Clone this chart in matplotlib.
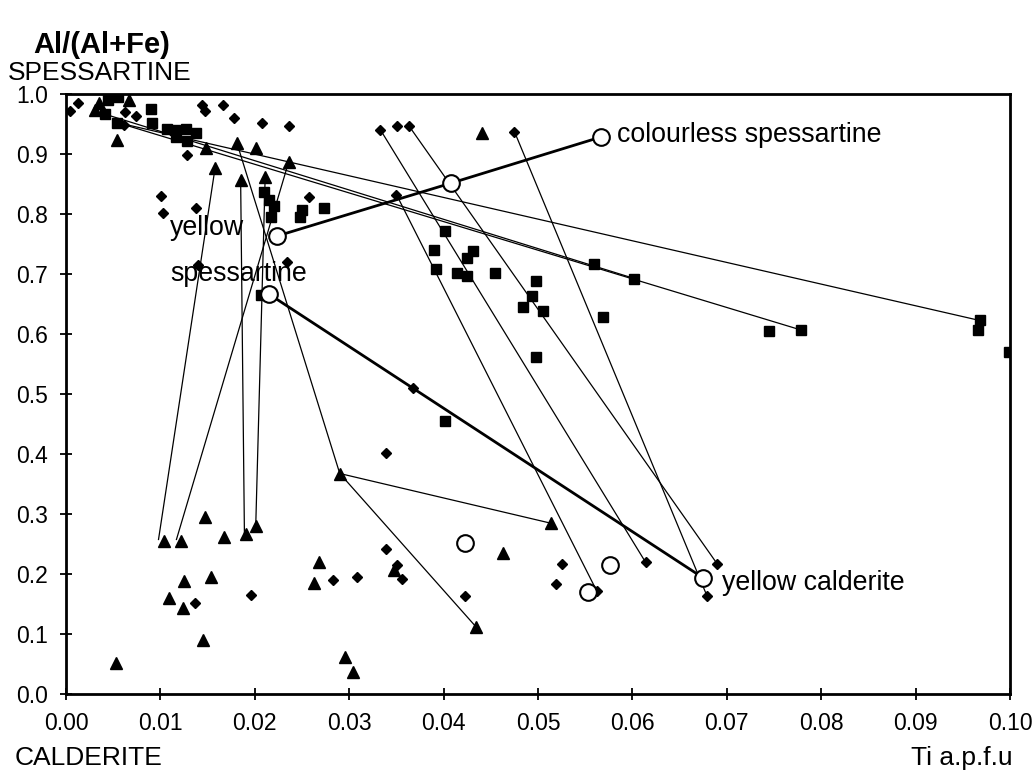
import numpy as np
import matplotlib
matplotlib.use("Agg")
from matplotlib import pyplot as plt

plt.rcParams['font.family'] = ['Liberation Sans', 'DejaVu Sans']

# diamonds
dia_x = [0.0004, 0.0013, 0.0063, 0.0074, 0.0061, 0.0128, 0.0144, 0.0147, 0.0166, 0.0178,
         0.0208, 0.0236, 0.0257, 0.0101, 0.0103, 0.0138, 0.0140, 0.0234, 0.0333, 0.0351,
         0.0363, 0.0475, 0.0350, 0.0368, 0.0339, 0.0339, 0.0351, 0.0356, 0.0283, 0.0308,
         0.0137, 0.0196, 0.0423, 0.0525, 0.0519, 0.0562, 0.0614, 0.0690, 0.0679]
dia_y = [0.973, 0.985, 0.970, 0.964, 0.949, 0.899, 0.983, 0.973, 0.983, 0.960,
         0.953, 0.948, 0.829, 0.831, 0.802, 0.811, 0.716, 0.721, 0.941, 0.948,
         0.948, 0.938, 0.833, 0.510, 0.402, 0.243, 0.216, 0.193, 0.191, 0.196,
         0.153, 0.166, 0.164, 0.217, 0.184, 0.173, 0.220, 0.217, 0.164]

# squares
sq_x = [0.0041, 0.0045, 0.0055, 0.0054, 0.0090, 0.0091, 0.0107, 0.0115, 0.0117, 0.0127,
        0.0128, 0.0138, 0.0210, 0.0215, 0.0220, 0.0217, 0.0250, 0.0248, 0.0273, 0.0207,
        0.0401, 0.0390, 0.0392, 0.0431, 0.0425, 0.0414, 0.0425, 0.0454, 0.0559, 0.0602,
        0.0498, 0.0494, 0.0484, 0.0505, 0.0498, 0.0569, 0.0745, 0.0779, 0.0968, 0.0966,
        0.0999, 0.0401]
sq_y = [0.967, 0.991, 0.995, 0.953, 0.975, 0.953, 0.942, 0.940, 0.928, 0.943,
        0.922, 0.935, 0.837, 0.824, 0.814, 0.796, 0.807, 0.796, 0.810, 0.666,
        0.772, 0.741, 0.709, 0.738, 0.727, 0.703, 0.698, 0.702, 0.718, 0.693,
        0.689, 0.664, 0.646, 0.639, 0.563, 0.629, 0.605, 0.607, 0.623, 0.607,
        0.571, 0.456]

# triangles
tri_x = [0.0035, 0.0031, 0.0067, 0.0054, 0.0148, 0.0181, 0.0201, 0.0236, 0.0158, 0.0185,
         0.0211, 0.0441, 0.0104, 0.0122, 0.0147, 0.0167, 0.0191, 0.0201, 0.0125, 0.0154,
         0.0109, 0.0124, 0.0145, 0.0053, 0.0268, 0.0263, 0.0290, 0.0296, 0.0304, 0.0347,
         0.0514, 0.0463, 0.0434]
tri_y = [0.985, 0.974, 0.990, 0.924, 0.910, 0.919, 0.910, 0.888, 0.878, 0.857,
         0.863, 0.936, 0.256, 0.256, 0.296, 0.263, 0.268, 0.281, 0.189, 0.195,
         0.160, 0.144, 0.090, 0.052, 0.221, 0.185, 0.368, 0.063, 0.037, 0.207,
         0.285, 0.236, 0.113]

# open circles
circ_x = [0.0224, 0.0408, 0.0567, 0.0215, 0.0675, 0.0423, 0.0553, 0.0576]
circ_y = [0.764, 0.852, 0.929, 0.667, 0.194, 0.253, 0.171, 0.216]

# thin tie lines: start and end
tie_x0 = [0.0054, 0.0041, 0.0054, 0.0333, 0.0363, 0.0475, 0.0350, 0.0158, 0.0236, 0.0185, 0.0211, 0.0181, 0.0290, 0.0290]
tie_y0 = [0.953, 0.967, 0.953, 0.941, 0.948, 0.938, 0.833, 0.878, 0.888, 0.857, 0.863, 0.919, 0.368, 0.368]
tie_x1 = [0.0968, 0.0602, 0.0779, 0.0614, 0.0690, 0.0679, 0.0562, 0.0098, 0.0117, 0.0189, 0.0201, 0.0290, 0.0514, 0.0434]
tie_y1 = [0.623, 0.693, 0.607, 0.220, 0.217, 0.164, 0.173, 0.258, 0.258, 0.268, 0.281, 0.368, 0.285, 0.113]

# thick trend lines
colourless_x = [0.0224, 0.0408, 0.0567]
colourless_y = [0.764, 0.852, 0.929]
yellow_x = [0.0215, 0.0675]
yellow_y = [0.667, 0.194]

fig = plt.figure(figsize=(10.35, 7.76), dpi=100)
ax = fig.add_axes([66 / 1035, 81.7 / 776, 944 / 1035, 600 / 776])

for i in range(len(tie_x0)):
    ax.plot([tie_x0[i], tie_x1[i]], [tie_y0[i], tie_y1[i]], color="black", lw=0.9, zorder=2)
ax.plot(colourless_x, colourless_y, color="black", lw=2, zorder=2)
ax.plot(yellow_x, yellow_y, color="black", lw=2, zorder=2)

ax.plot(dia_x, dia_y, "D", color="black", markersize=5.3, ls="none", zorder=3)
ax.plot(sq_x, sq_y, "s", color="black", markersize=6.5, ls="none", zorder=3)
ax.plot(tri_x, tri_y, "^", color="black", markersize=9, ls="none", zorder=3)
ax.plot(circ_x, circ_y, "o", mfc="white", mec="black", mew=1.5, markersize=12, ls="none", zorder=4)

ax.set_xlim(0, 0.1)
ax.set_ylim(0, 1.0)
xt = np.arange(0, 0.1001, 0.01)
yt = np.arange(0, 1.001, 0.1)
ax.set_xticks(xt)
ax.set_xticklabels(["%.2f" % v for v in xt])
ax.set_yticks(yt)
ax.set_yticklabels(["%.1f" % v for v in yt])
ax.tick_params(direction="inout", length=8, width=1.3, labelsize=16.5, pad=9)
for s in ax.spines.values():
    s.set_linewidth(2)

ax.text(0.0584, 0.920, "colourless spessartine", fontsize=19.3, va="baseline")
ax.text(0.0110, 0.766, "yellow", fontsize=19.3, va="baseline")
ax.text(0.0110, 0.689, "spessartine", fontsize=19.3, va="baseline")
ax.text(0.0695, 0.174, "yellow calderite", fontsize=19.3, va="baseline")

fig.text(33 / 1035, 1 - 53 / 776, "Al/(Al+Fe)", fontsize=21, fontweight="bold", va="baseline")
fig.text(8 / 1035, 1 - 80 / 776, "SPESSARTINE", fontsize=19, va="baseline")
fig.text(15 / 1035, 1 - 765 / 776, "CALDERITE", fontsize=19, va="baseline")
fig.text(1013 / 1035, 1 - 765 / 776, "Ti a.p.f.u", fontsize=19, va="baseline", ha="right")

fig.savefig("out.png", dpi=100)
